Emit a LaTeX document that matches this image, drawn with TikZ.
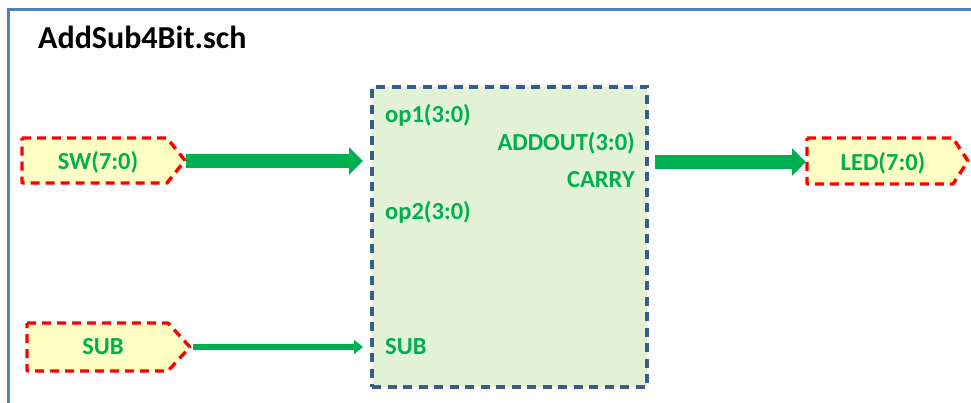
\documentclass[tikz,border=0pt]{standalone}
\usepackage{fontspec}
\setmainfont{Carlito}
\usetikzlibrary{arrows.meta}
\definecolor{sgreen}{HTML}{00B050}
\definecolor{framebl}{HTML}{4F81BD}
\definecolor{blkbd}{HTML}{385D8A}
\definecolor{blkfill}{HTML}{E3F1D6}
\definecolor{portfill}{HTML}{FFFFC4}
\tikzset{
  frameline/.style={draw=framebl, line width=3pt},
  portbox/.style={draw=red, fill=portfill, line width=3.4pt, dash pattern=on 9pt off 6pt, line join=round},
  blockbox/.style={draw=blkbd, fill=blkfill, line width=3.4pt, dash pattern=on 9pt off 6.5pt, rectangle, minimum width=275pt, minimum height=300pt, inner sep=0pt},
  lbl/.style={text=sgreen, font=\fontsize{24.5}{28}\selectfont\bfseries, inner sep=0pt},
  titlelbl/.style={text=black, font=\fontsize{32}{36}\selectfont\bfseries, inner sep=0pt, anchor=west},
  busarrow/.style={draw=sgreen, line width=14pt, -{Triangle[length=14pt,width=27pt]}},
  bitarrow/.style={draw=sgreen, line width=5.5pt, -{Triangle[length=9pt,width=14pt]}},
}
\begin{document}
\begin{tikzpicture}[x=1pt,y=-1pt]
\useasboundingbox (0,0) rectangle (971,403);
% frame
\draw[frameline] (8,403) -- (8,10) -- (971,10);
\node[titlelbl] (title) at (38,37) {AddSub4Bit.sch};

% input port SW
\draw[portbox] (22,138) -- (167,138) -- (185,160.5) -- (167,183) -- (22,183) -- cycle;
\coordinate (swtip) at (186,161);
\node[lbl] (sw) at (98,162) {SW(7:0)};

% input port SUB
\draw[portbox] (27,323) -- (168,323) -- (190,347) -- (168,371) -- (27,371) -- cycle;
\coordinate (subtip) at (193,347);
\node[lbl] (sub) at (103,347) {SUB};

% output port LED
\draw[portbox] (807,138) -- (953,138) -- (968,161) -- (953,184) -- (807,184) -- cycle;
\coordinate (ledin) at (806,162);
\node[lbl] (led) at (883,163) {LED(7:0)};

% block
\node[blockbox] (blk) at (509.5,237) {};
\node[lbl, anchor=west] (op1) at (385,115) {op1(3:0)};
\node[lbl, anchor=east] (addout) at (635,143) {ADDOUT(3:0)};
\node[lbl, anchor=east] (carry) at (635,180) {CARRY};
\node[lbl, anchor=west] (op2) at (385,212) {op2(3:0)};
\node[lbl, anchor=west] (subp) at (385,347) {SUB};

% connectors
\coordinate (blkin1) at (363,161);
\coordinate (blkin2) at (363,347);
\coordinate (blkout) at (655,162);
\draw[busarrow] (swtip) -- (blkin1);
\draw[bitarrow] (subtip) -- (blkin2);
\draw[busarrow] (blkout) -- (ledin);
\end{tikzpicture}
\end{document}
